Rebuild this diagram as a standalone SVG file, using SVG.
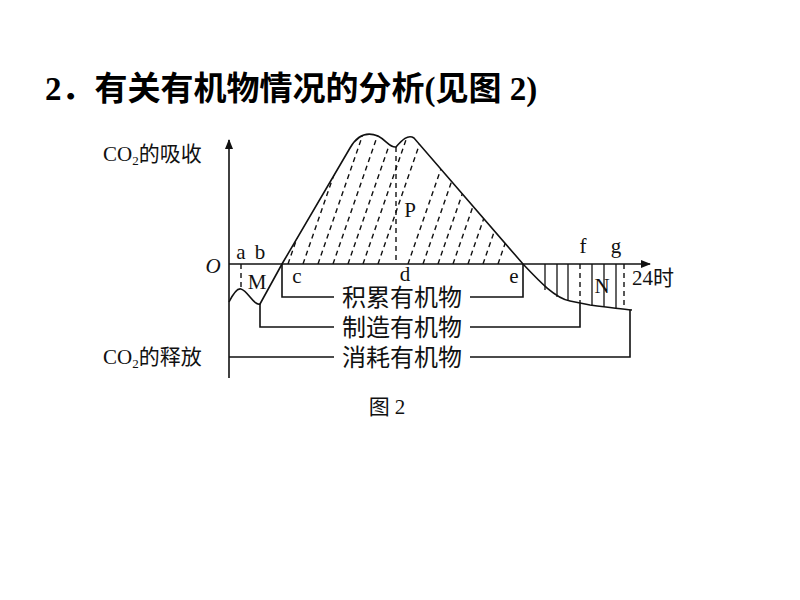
<svg xmlns="http://www.w3.org/2000/svg" width="800" height="600" viewBox="0 0 800 600">
<style>
.t{font-family:"Liberation Serif","Noto Sans CJK SC",serif;font-size:21px;fill:#111}
.c{font-family:"Liberation Serif","Noto Sans CJK SC",serif;font-size:24px;fill:#111}
.ln{stroke:#111;stroke-width:1.6;fill:none}
.ds{stroke:#111;stroke-width:1.4;stroke-dasharray:5,4;fill:none}
</style>
<defs>
<marker id="ar" markerWidth="10" markerHeight="8" refX="9" refY="4" orient="auto" markerUnits="userSpaceOnUse"><path d="M0,0 L10,4 L0,8 Z" fill="#111"/></marker>
<clipPath id="pc"><path d="M282,264 L350,148 C358,134 368,132 378,136 C386,140 390,148 396,147 C402,140 408,134 414,138 L523,264 Z"/></clipPath>
</defs>
<text x="45" y="100" style="font-family:'Liberation Serif','Noto Sans CJK SC',serif;font-size:33px;font-weight:bold">2．有关有机物情况的分析(见图 2)</text>
<g id="axes">
<line class="ln" x1="229" y1="378" x2="229" y2="140" marker-end="url(#ar)"/>
<line class="ln" x1="229" y1="264" x2="650" y2="264" marker-end="url(#ar)"/>
</g>
<g id="curve">
<path class="ln" d="M229,302 C234,292 238,288 241,289 C248,291 254,306 260,304 L282,264 L350,148 C358,134 368,132 378,136 C386,140 390,148 396,147 C402,140 408,134 414,138 L523,264 C540,282 555,298 570,301 L590,305 C605,307 620,309 632,310"/>
</g>
<g id="hatchP" clip-path="url(#pc)" class="ds">
<line x1="258" y1="264" x2="303" y2="134"/><line x1="273" y1="264" x2="318" y2="134"/><line x1="288" y1="264" x2="333" y2="134"/><line x1="303" y1="264" x2="348" y2="134"/><line x1="318" y1="264" x2="363" y2="134"/><line x1="333" y1="264" x2="378" y2="134"/><line x1="348" y1="264" x2="393" y2="134"/><line x1="363" y1="264" x2="408" y2="134"/><line x1="378" y1="264" x2="423" y2="134"/><line x1="408" y1="264" x2="453" y2="134"/><line x1="423" y1="264" x2="468" y2="134"/><line x1="438" y1="264" x2="483" y2="134"/><line x1="453" y1="264" x2="498" y2="134"/><line x1="468" y1="264" x2="513" y2="134"/><line x1="483" y1="264" x2="528" y2="134"/><line x1="498" y1="264" x2="543" y2="134"/>
</g>
<g id="dashes" class="ds">
<line x1="396" y1="147" x2="396" y2="264"/>
<line x1="241" y1="264" x2="241" y2="289"/>
<line x1="580" y1="264" x2="580" y2="304"/>
<line x1="624" y1="264" x2="624" y2="309"/>
</g>
<g id="hatchN" class="ln" style="stroke-width:1.3">
<line x1="545" y1="264" x2="545" y2="290"/><line x1="557" y1="264" x2="557" y2="297"/><line x1="568" y1="264" x2="568" y2="301"/><line x1="592" y1="264" x2="592" y2="306"/><line x1="604" y1="264" x2="604" y2="307"/><line x1="616" y1="264" x2="616" y2="308"/>
</g>
<g id="connectors" class="ln">
<path d="M282,264 V297 H334 M470,297 H523 V264"/>
<path d="M260,304 V327 H334 M470,327 H580 V304"/>
<path d="M229,357 H334 M470,357 H630 V310"/>
</g>
<g id="labels">
<text class="t" x="241" y="259" text-anchor="middle">a</text>
<text class="t" x="260" y="259" text-anchor="middle">b</text>
<text class="t" x="257" y="289" text-anchor="middle">M</text>
<text class="t" x="297" y="283" text-anchor="middle">c</text>
<text class="t" x="405" y="281" text-anchor="middle">d</text>
<text class="t" x="514" y="283" text-anchor="middle">e</text>
<text class="t" x="583" y="253" text-anchor="middle">f</text>
<text class="t" x="616" y="253" text-anchor="middle">g</text>
<text class="t" x="602" y="293" text-anchor="middle">N</text>
<text class="t" x="410" y="217" text-anchor="middle">P</text>
<text class="t" x="213" y="273" text-anchor="middle" font-style="italic" font-size="23">O</text>
<text class="t" x="632" y="285" font-size="22">24时</text>
<text class="c" x="402" y="306" text-anchor="middle">积累有机物</text>
<text class="c" x="402" y="336" text-anchor="middle">制造有机物</text>
<text class="c" x="402" y="366" text-anchor="middle">消耗有机物</text>
<text class="t" x="103" y="161">CO<tspan font-size="13" dy="4">2</tspan><tspan dy="-4">的吸收</tspan></text>
<text class="t" x="103" y="364">CO<tspan font-size="13" dy="4">2</tspan><tspan dy="-4">的释放</tspan></text>
<text class="t" x="387" y="414" text-anchor="middle">图 2</text>
</g>
</svg>
